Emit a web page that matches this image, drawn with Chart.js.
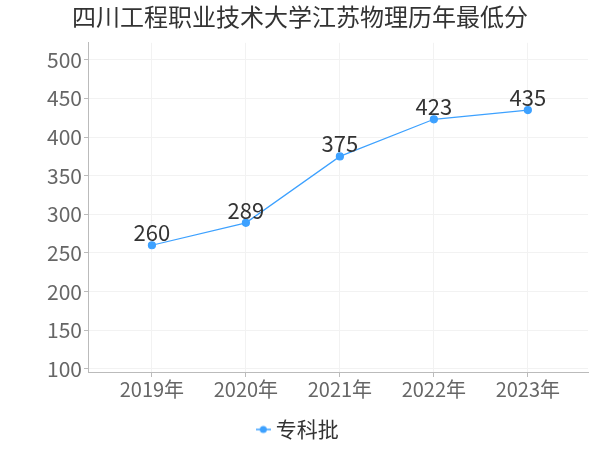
<!DOCTYPE html>
<html>
<head>
<meta charset="utf-8">
<script src="https://cdn.jsdelivr.net/npm/chart.js@4"></script>
<style>
  html, body { margin: 0; padding: 0; background: #fff; }
  #wrap { width: 600px; height: 450px; position: relative; }
</style>
</head>
<body>
<div id="wrap"><canvas id="chart"></canvas></div>
<script>
// Chart data
const titleText = '四川工程职业技术大学江苏物理历年最低分';
const years = ['2019年', '2020年', '2021年', '2022年', '2023年'];
const seriesName = '专科批';
const scores = [260, 289, 375, 423, 435];
const yTicks = [100, 150, 200, 250, 300, 350, 400, 450, 500];

const lineColor = '#3da1ff';
const fontFamily = '"Noto Sans CJK SC", "Noto Sans", sans-serif';

// legend marker: short line with a dot in the middle
const marker = document.createElement('canvas');
marker.width = 15; marker.height = 10;
(() => {
    const c = marker.getContext('2d');
    c.strokeStyle = lineColor;
    c.lineWidth = 1.5;
    c.beginPath(); c.moveTo(0, 5); c.lineTo(15, 5); c.stroke();
    c.fillStyle = lineColor;
    c.beginPath(); c.arc(7.5, 5, 3.5, 0, Math.PI * 2); c.fill();
})();

// draws the value above each point
const valueLabels = {
    id: 'valueLabels',
    afterDatasetsDraw(chart) {
        const ctx = chart.ctx;
        const meta = chart.getDatasetMeta(0);
        ctx.save();
        ctx.font = '22px ' + fontFamily;
        ctx.fillStyle = '#333';
        ctx.textAlign = 'center';
        ctx.textBaseline = 'alphabetic';
        meta.data.forEach((pt, i) => {
            ctx.fillText(String(scores[i]), pt.x, pt.y - 4);
        });
        ctx.restore();
    }
};

new Chart(document.getElementById('chart'), {
    type: 'line',
    data: {
        datasets: [{
            label: seriesName,
            data: scores.map((v, i) => ({ x: i, y: v })),
            borderColor: lineColor,
            backgroundColor: lineColor,
            borderWidth: 1.2,
            pointRadius: 3.5,
            pointHoverRadius: 3.5,
            tension: 0
        }]
    },
    options: {
        responsive: true,
        maintainAspectRatio: false,
        animation: false,
        layout: { padding: { left: 12, right: 12, top: 2, bottom: 0 } },
        plugins: {
            title: {
                display: true,
                text: titleText,
                color: '#333',
                font: { family: fontFamily, size: 24, weight: 'normal' },
                padding: { top: 0, bottom: 12 }
            },
            legend: {
                display: true,
                position: 'bottom',
                labels: {
                    color: '#333',
                    font: { family: fontFamily, size: 21 },
                    usePointStyle: true,
                    pointStyle: marker,
                    pointStyleWidth: 4,
                    padding: 5
                }
            },
            tooltip: { enabled: false }
        },
        scales: {
            x: {
                type: 'linear',
                min: -0.68,
                max: 4.64,
                afterBuildTicks: (axis) => {
                    axis.ticks = years.map((_, i) => ({ value: i }));
                },
                afterFit: (axis) => { axis.height = 42; },
                ticks: {
                    color: '#666',
                    font: { family: fontFamily, size: 20 },
                    callback: (v) => years[v] || '',
                    maxRotation: 0,
                    autoSkip: false,
                    padding: 0
                },
                grid: { color: '#f2f2f2', tickColor: '#bbb', tickLength: 5 },
                border: { color: '#bbb' }
            },
            y: {
                min: 96,
                max: 522,
                afterBuildTicks: (axis) => {
                    axis.ticks = yTicks.map(v => ({ value: v }));
                },
                afterFit: (axis) => { axis.width = 76; },
                ticks: {
                    color: '#666',
                    font: { family: fontFamily, size: 21 },
                    padding: 2
                },
                grid: { color: '#f2f2f2', tickColor: '#bbb', tickLength: 4 },
                border: { color: '#bbb' }
            }
        }
    },
    plugins: [valueLabels]
});
</script>
</body>
</html>
